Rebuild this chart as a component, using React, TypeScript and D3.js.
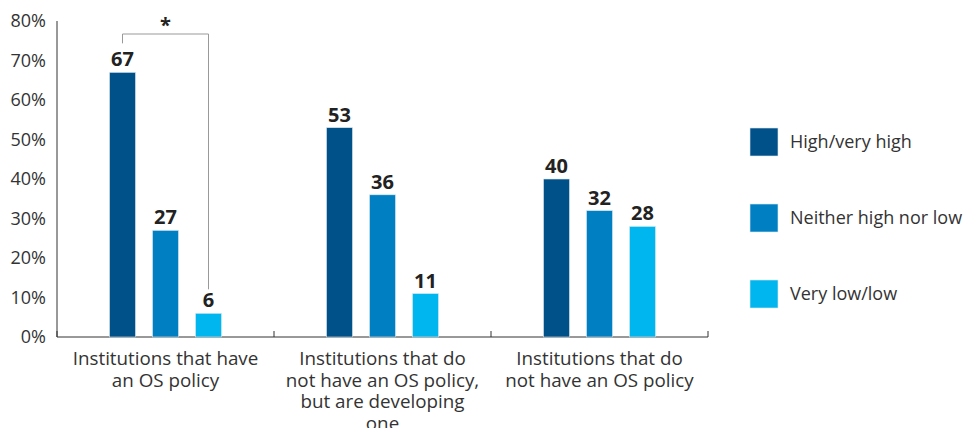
import React from "react";
import * as d3 from "d3";

const categories = [
  ["Institutions that have", "an OS policy"],
  ["Institutions that do", "not have an OS policy,", "but are developing", "one"],
  ["Institutions that do", "not have an OS policy"],
];
const seriesNames = ["High/very high", "Neither high nor low", "Very low/low"];
const highVeryHigh = [67, 53, 40];
const neither = [27, 36, 32];
const veryLowLow = [6, 11, 28];
const yTicks = [0, 10, 20, 30, 40, 50, 60, 70, 80];
const colors = ["#00508a", "#0080c3", "#00b6ee"];

export default function App() {
  const W = 964, H = 428;
  const x0 = d3.scaleBand<number>().domain([0, 1, 2]).range([57, 708]).paddingInner(0).paddingOuter(0);
  const groupSpan = 112;
  const x1 = d3.scaleBand<number>().domain([0, 1, 2]).range([0, groupSpan]).paddingInner(17 / 43).paddingOuter(0);
  const y = d3.scaleLinear().domain([0, 80]).range([337, 21]);
  const series = [highVeryHigh, neither, veryLowLow];
  const font = "'Open Sans', 'DejaVu Sans', sans-serif";
  const groupOffset = (x0.bandwidth() - groupSpan) / 2;
  const barX = (g: number, s: number) => (x0(g) as number) + groupOffset + (x1(s) as number);
  const bw = x1.bandwidth();

  const bx1 = barX(0, 0) + bw / 2;
  const bx3 = barX(0, 2) + bw / 2;
  const bracketTop = 34;

  return (
    <svg width={W} height={H} style={{ position: "absolute", left: 0, top: 0 }}>
      <rect width={W} height={H} fill="#fff" />
      <line x1={57} x2={57} y1={21} y2={337} stroke="#333" strokeWidth={1} />
      <line x1={57} x2={708} y1={337} y2={337} stroke="#333" strokeWidth={1} />
      {[0, 1, 2, 3].map((i) => {
        const xx = i < 3 ? (x0(i) as number) : 708;
        return <line key={i} x1={xx} x2={xx} y1={331} y2={337} stroke="#333" strokeWidth={1} />;
      })}
      {yTicks.map((t) => (
        <text key={t} x={46} y={y(t) + 6} textAnchor="end" fontFamily={font} fontSize={18} fill="#333">
          {t}%
        </text>
      ))}
      {series.map((vals, s) =>
        vals.map((v, g) => (
          <g key={`${s}-${g}`}>
            <rect x={barX(g, s)} y={y(v)} width={bw} height={337 - y(v)} fill={colors[s]} stroke="#dfe9f0" strokeWidth={0.6} />
            <text x={barX(g, s) + bw / 2} y={y(v) - 6} textAnchor="middle" fontFamily={font} fontWeight={700} fontSize={20} fill="#222">
              {v}
            </text>
          </g>
        ))
      )}
      <path
        d={`M${bx1},${y(highVeryHigh[0]) - 29} V${bracketTop} H${bx3} V${y(veryLowLow[0]) - 24}`}
        fill="none"
        stroke="#999"
        strokeWidth={1}
      />
      <text x={(bx1 + bx3) / 2} y={32} textAnchor="middle" fontFamily={font} fontWeight={700} fontSize={20} fill="#222">
        *
      </text>
      {categories.map((lines, g) => (
        <text key={g} textAnchor="middle" fontFamily={font} fontSize={18.8} fill="#333">
          {lines.map((l, i) => (
            <tspan key={i} x={(x0(g) as number) + x0.bandwidth() / 2} y={365 + i * 21.5}>
              {l}
            </tspan>
          ))}
        </text>
      ))}
      {seriesNames.map((n, i) => (
        <g key={n}>
          <rect x={750} y={128 + i * 76} width={28} height={28} fill={colors[i]} stroke="#dfe9f0" strokeWidth={0.6} />
          <text x={790} y={148 + i * 76} fontFamily={font} fontSize={18} fill="#333">
            {n}
          </text>
        </g>
      ))}
    </svg>
  );
}
